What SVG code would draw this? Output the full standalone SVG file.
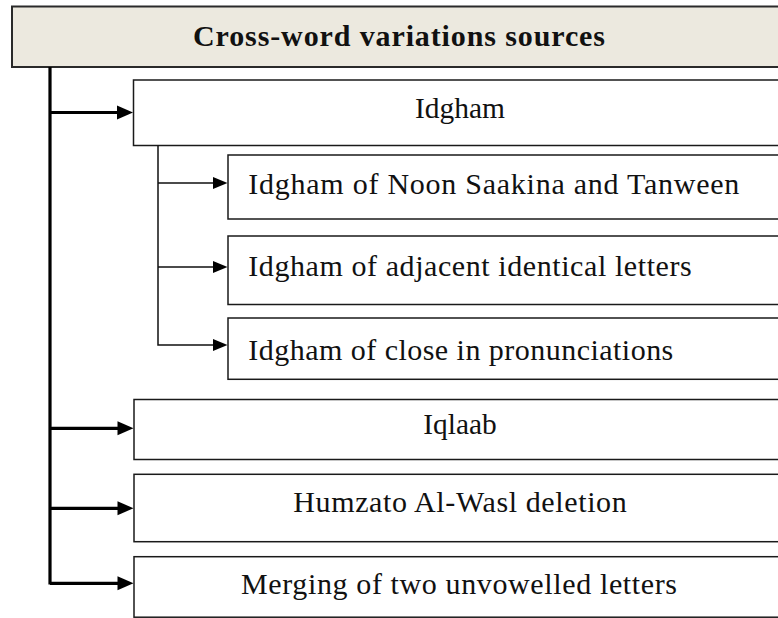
<svg xmlns="http://www.w3.org/2000/svg" width="778" height="618" viewBox="0 0 778 618">
  <style>
    .box { fill: #ffffff; stroke: #1a1a1a; stroke-width: 1.5; }
    .head { fill: #ECE9DF; stroke: #2a2a2a; stroke-width: 2; }
    .lbl { font-family: "Liberation Serif", "Times New Roman", serif; font-size: 30px; fill: #111; }
    .title { font-family: "Liberation Serif", "Times New Roman", serif; font-size: 30px; font-weight: bold; fill: #111; }
    .trunk { stroke: #000; stroke-width: 3.2; fill: none; }
    .branch { stroke: #111; stroke-width: 1.5; fill: none; }
    .tip { fill: #000; }
  </style>

  <!-- title bar -->
  <g id="root">
    <rect class="head" x="12" y="6.5" width="790" height="60.5"/>
    <text class="title" x="193" y="46" textLength="412" lengthAdjust="spacing">Cross-word variations sources</text>
  </g>

  <g id="idgham">
    <rect class="box" x="133.5" y="80" width="660" height="65.5"/>
    <text class="lbl" x="415" y="118.3" textLength="90" lengthAdjust="spacingAndGlyphs">Idgham</text>
  </g>

  <g id="idgham-noon">
    <rect class="box" x="228" y="155" width="560" height="64"/>
    <text class="lbl" x="248.3" y="194.3" textLength="491" lengthAdjust="spacing">Idgham of Noon Saakina and Tanween</text>
  </g>

  <g id="idgham-identical">
    <rect class="box" x="228" y="236" width="560" height="68.5"/>
    <text class="lbl" x="248.3" y="276" textLength="443.4" lengthAdjust="spacing">Idgham of adjacent identical letters</text>
  </g>

  <g id="idgham-close">
    <rect class="box" x="228" y="318" width="560" height="61.3"/>
    <text class="lbl" x="248.3" y="359.5" textLength="425" lengthAdjust="spacing">Idgham of close in pronunciations</text>
  </g>

  <g id="iqlaab">
    <rect class="box" x="134" y="399.5" width="660" height="60"/>
    <text class="lbl" x="423.3" y="434.3" textLength="73.4" lengthAdjust="spacingAndGlyphs">Iqlaab</text>
  </g>

  <g id="humzato">
    <rect class="box" x="134" y="474.3" width="660" height="67.4"/>
    <text class="lbl" x="293.3" y="511.5" textLength="333.4" lengthAdjust="spacing">Humzato Al-Wasl deletion</text>
  </g>

  <g id="merging">
    <rect class="box" x="134" y="556.7" width="660" height="60.5"/>
    <text class="lbl" x="241" y="594.3" textLength="436" lengthAdjust="spacing">Merging of two unvowelled letters</text>
  </g>

  <!-- connectors -->
  <g id="connectors">
    <!-- main trunk with thick branches -->
    <path class="trunk" d="M50,67 V584.5 M50,112.5 H120 M50,428.3 H120 M50,508.3 H120 M50,583.3 H120"/>
    <polygon class="tip" points="133,112.5 117,105.5 117,119.5"/>
    <polygon class="tip" points="133.5,428.3 117.5,421.3 117.5,435.3"/>
    <polygon class="tip" points="133.5,508.3 117.5,501.3 117.5,515.3"/>
    <polygon class="tip" points="133.5,583.3 117.5,576.3 117.5,590.3"/>

    <!-- Idgham sub-branches -->
    <path class="branch" d="M158,145.5 V345 H215 M158,183 H215 M158,267 H215"/>
    <polygon class="tip" points="227.5,183 213,177 213,189"/>
    <polygon class="tip" points="227.5,267 213,261 213,273"/>
    <polygon class="tip" points="227.5,345 213,339 213,351"/>
  </g>
</svg>
